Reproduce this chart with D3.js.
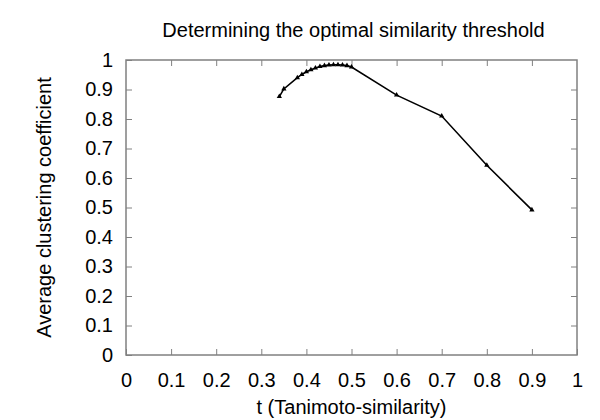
<!DOCTYPE html>
<html lang="en">
<head>
<meta charset="UTF-8">
<title>Determining the optimal similarity threshold</title>
<script src="https://d3js.org/d3.v7.min.js"></script>
<style>
  body { margin: 0; background: #fff; }
  text { font-family: "Liberation Sans", Arial, sans-serif; fill: #000; }
</style>
</head>
<body>
<svg width="600" height="420"></svg>
<script>
// values
const thresholds = [0.34, 0.35, 0.38, 0.39, 0.40, 0.41, 0.42, 0.43, 0.44, 0.45, 0.46, 0.47, 0.48, 0.49, 0.50, 0.6, 0.7, 0.8, 0.9];
const coeffs     = [0.876, 0.902, 0.940, 0.951, 0.960, 0.967, 0.973, 0.978, 0.981, 0.983, 0.984, 0.984, 0.983, 0.981, 0.976, 0.881, 0.810, 0.643, 0.492];
const xTicks = [0, 0.1, 0.2, 0.3, 0.4, 0.5, 0.6, 0.7, 0.8, 0.9, 1];
const yTicks = [0, 0.1, 0.2, 0.3, 0.4, 0.5, 0.6, 0.7, 0.8, 0.9, 1];

const data = thresholds.map((t, i) => ({ t: t, c: coeffs[i] }));

const margin = { top: 60, right: 23, bottom: 65, left: 126 },
      width = 600 - margin.left - margin.right,
      height = 420 - margin.top - margin.bottom;

const svg = d3.select("svg");
const g = svg.append("g").attr("transform", `translate(${margin.left},${margin.top})`);

const x = d3.scaleLinear().domain([0, 1]).range([0, width]);
const y = d3.scaleLinear().domain([0, 1]).range([height, 0]);

const fmt = d => d === 0 ? "0" : d === 1 ? "1" : d3.format(".1f")(d);
const frame = "#808080";
const fs = "20px";

// axes with inward ticks, mirrored on top and right
function styleAxis(sel) {
  sel.select(".domain").remove();
  sel.selectAll(".tick line").attr("stroke", frame);
  sel.selectAll("text").style("font-size", fs);
}
g.append("g").attr("transform", `translate(0,${height})`)
  .call(d3.axisBottom(x).tickValues(xTicks).tickFormat(fmt).tickSizeInner(-6).tickPadding(18))
  .call(styleAxis);
g.append("g")
  .call(d3.axisLeft(y).tickValues(yTicks).tickFormat(fmt).tickSizeInner(-6).tickPadding(13))
  .call(styleAxis);
g.append("g")
  .call(d3.axisTop(x).tickValues(xTicks.slice(1, -1)).tickFormat("").tickSizeInner(-6))
  .call(styleAxis);
g.append("g").attr("transform", `translate(${width},0)`)
  .call(d3.axisRight(y).tickValues(yTicks.slice(1, -1)).tickFormat("").tickSizeInner(-6))
  .call(styleAxis);

g.append("rect")
  .attr("width", width).attr("height", height)
  .attr("fill", "none").attr("stroke", frame).attr("stroke-width", 1.5);

// data line
g.append("path")
  .datum(data)
  .attr("fill", "none")
  .attr("stroke", "#000")
  .attr("stroke-width", 1.6)
  .attr("d", d3.line().x(d => x(d.t)).y(d => y(d.c)));

g.selectAll(".pt")
  .data(data)
  .enter()
  .append("path")
  .attr("class", "pt")
  .attr("transform", d => `translate(${x(d.t)},${y(d.c)})`)
  .attr("d", d3.symbol(d3.symbolTriangle, 12))
  .attr("fill", "#000");

// titles
svg.append("text")
  .attr("x", margin.left + width / 2 + 2).attr("y", 37)
  .attr("text-anchor", "middle").style("font-size", fs)
  .text("Determining the optimal similarity threshold");

svg.append("text")
  .attr("x", margin.left + width / 2).attr("y", 414)
  .attr("text-anchor", "middle").style("font-size", fs)
  .text("t (Tanimoto-similarity)");

svg.append("text")
  .attr("transform", `translate(51,${margin.top + height / 2}) rotate(-90)`)
  .attr("text-anchor", "middle").style("font-size", fs)
  .text("Average clustering coefficient");
</script>
</body>
</html>
